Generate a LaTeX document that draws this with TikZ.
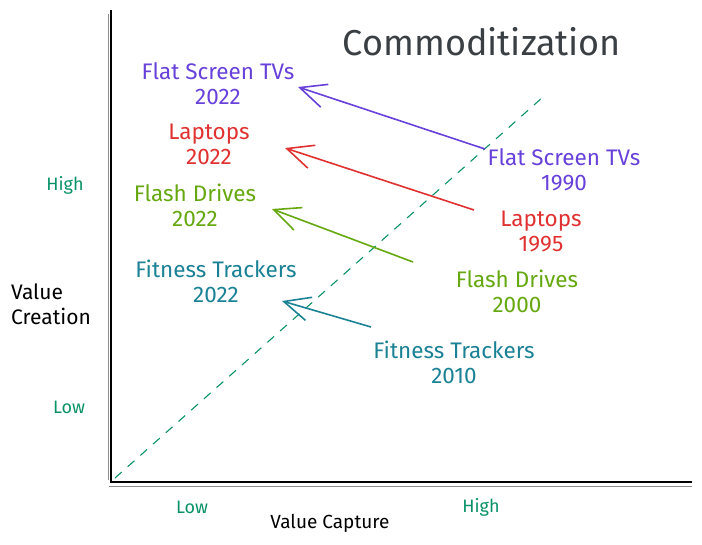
\documentclass[tikz,border=0pt]{standalone}
\usepackage{fontspec}
\setmainfont{Fira Sans}
\usetikzlibrary{arrows.meta}
\definecolor{tvcol}{HTML}{6741D9}
\definecolor{lapcol}{HTML}{E03131}
\definecolor{flashcol}{HTML}{66A80F}
\definecolor{fitcol}{HTML}{1B8296}
\definecolor{axiscol}{HTML}{099268}
\definecolor{titlecol}{HTML}{3A3F44}

\begin{document}
\begin{tikzpicture}[x=1pt,y=-1pt]
\useasboundingbox (0,0) rectangle (702,545);
\tikzstyle{lbl}=[align=center, inner sep=0pt, font=\fontsize{22.5}{25}\selectfont]
\tikzstyle{tick}=[inner sep=0pt, text=axiscol, font=\fontsize{18}{22}\selectfont]
\tikzstyle{arr}=[line width=1.6pt, -{Straight Barb[length=26pt,width=24pt,line width=1.6pt]}]
\tikzstyle{axis}=[line width=1.2pt, black]
\tikzstyle{rough}=[line width=0.8pt, black!45]
\tikzstyle{diag}=[line width=1.1pt, axiscol, dash pattern=on 9pt off 8pt]
\node[lbl, text=titlecol, font=\fontsize{36}{40}\selectfont](title) at (482,42){Commoditization};
\node[lbl, text=tvcol](tv22) at (218,84){Flat Screen TVs\\2022};
\node[lbl, text=tvcol](tv90) at (564,170){Flat Screen TVs\\1990};
\node[lbl, text=lapcol](lap22) at (209,144){Laptops\\2022};
\node[lbl, text=lapcol](lap95) at (541,231){Laptops\\1995};
\node[lbl, text=flashcol](fd22) at (195,205){Flash Drives\\2022};
\node[lbl, text=flashcol](fd00) at (517,291){Flash Drives\\2000};
\node[lbl, text=fitcol](ft22) at (216,281){Fitness Trackers\\2022};
\node[lbl, text=fitcol](ft10) at (454,362){Fitness Trackers\\2010};
\node[tick](yhigh) at (65,185){High};
\node[tick](ylow) at (69,407){Low};
\node[tick](xlow) at (192,507){Low};
\node[tick](xhigh) at (481,507){High};
\node[lbl, align=left, font=\fontsize{21}{25}\selectfont](ytitle) at (51,304){Value\\Creation};
\node[lbl, font=\fontsize{19}{25}\selectfont](xtitle) at (330,523){Value Capture};
\coordinate (ytop) at (111,10);
\coordinate (orig) at (111,482);
\coordinate (xend) at (692,482);
\draw[axis] (ytop) -- (orig) -- (xend);
\draw[rough] (108,14) -- (108,480);
\draw[rough] (109,486) -- (692,486);
\coordinate (d0) at (115,478);
\coordinate (d1) at (543,97);
\draw[diag] (d0) -- (d1);
\coordinate (tvA) at (485,149);
\coordinate (tvB) at (298,87);
\coordinate (lapA) at (474,210);
\coordinate (lapB) at (285,148);
\coordinate (fdA) at (413,262);
\coordinate (fdB) at (272,209);
\coordinate (ftA) at (371,327);
\coordinate (ftB) at (282,301);
\foreach \a/\b/\c in {tvA/tvB/tvcol,lapA/lapB/lapcol,fdA/fdB/flashcol,ftA/ftB/fitcol}{\draw[arr,\c] (\a) -- (\b);}
\end{tikzpicture}
\end{document}
